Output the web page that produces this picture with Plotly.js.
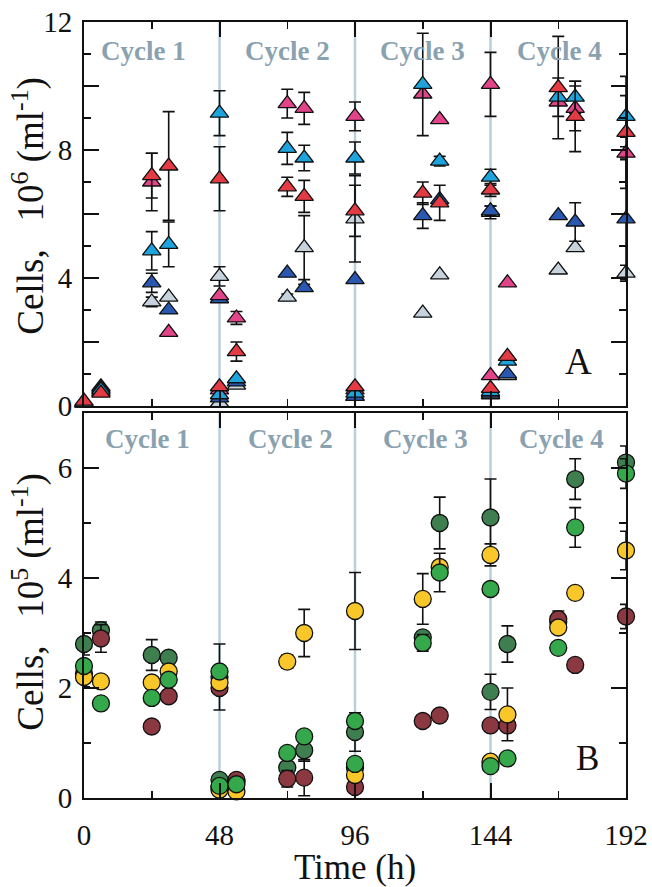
<!DOCTYPE html>
<html>
<head>
<meta charset="utf-8">
<script src="https://cdn.plot.ly/plotly-3.0.1.min.js"></script>
<style>html,body{margin:0;padding:0;background:#fff;}#chart{width:652px;height:887px;}</style>
</head>
<body>
<div id="chart"></div>
<script>
// Sampling times (h); cycle boundaries appear twice (end of cycle / start of next)
const times = [0, 6, 24, 30, 48, 48, 54, 72, 78, 96, 96, 120, 126, 144, 144, 150, 168, 174, 192];

// Panel A (10^6 cells ml-1), triangles
const aRed      = [0.15, 0.4, 7.2, 7.5, 7.1, 0.6, 1.7, 6.85, 6.55, 6.1, 0.6, 6.65, 6.35, 6.75, 0.55, 1.55, 9.95, 9.05, 8.55];
const aRedErr   = [null, null, 0.7, 1.7, 1.0, null, 0.3, 0.3, 0.5, 0.8, null, 0.35, 0.55, 0.2, null, null, 1.6, 1.1, 1.75];
const aPink     = [0.1, 0.45, 7.0, 2.3, 3.45, 0.5, 2.75, 9.45, 9.3, 9.05, 0.5, 9.75, 8.95, 10.05, 0.95, 3.85, 9.5, 9.3, 7.9];
const aPinkErr  = [null, null, 0.9, null, null, null, 0.2, 0.45, 0.5, 0.45, null, null, null, 1.0, null, null, null, 0.7, 0.2];
const aCyan     = [0.1, 0.5, 4.85, 5.05, 9.15, 0.35, 0.85, 8.05, 7.75, 7.75, 0.4, 10.05, 7.65, 7.15, 0.45, 1.4, 9.65, 9.65, 9.05];
const aCyanErr  = [null, null, 0.6, 0.7, 0.7, null, null, 0.5, 0.4, 0.5, null, 1.6, 0.15, 0.25, null, null, 0.6, 0.5, 0.65];
const aBlue     = [0.1, 0.55, 3.85, 3.0, 3.35, 0.25, 0.75, 4.15, 3.7, 3.95, 0.3, 5.95, 6.45, 6.1, 0.4, 1.0, 5.95, 5.75, 5.85];
const aBlueErr  = [null, null, 0.3, null, null, null, null, null, 0.1, null, null, 0.4, null, 0.15, null, null, null, 0.6, 1.9];
const aGray     = [0.1, 0.6, 3.25, 3.4, 4.05, 0.1, 0.65, 3.4, 4.95, 5.85, 0.3, 2.9, 4.1, 6.05, 0.35, 0.95, 4.25, 4.95, 4.15];
const aGrayErr  = [null, null, 0.15, null, 0.3, null, null, 0.1, 1.0, 1.35, null, null, null, 0.2, null, null, null, null, 0.25];

// Panel B (10^5 cells ml-1), circles
const bDkGreen    = [2.8, 3.05, 2.6, 2.55, 2.2, 0.33, 0.3, 0.55, 0.87, 1.2, 0.55, 2.92, 5.0, 5.1, 1.93, 2.8, 3.2, 5.8, 6.1];
const bDkGreenErr = [0.2, 0.15, 0.28, null, 0.6, null, null, null, 0.2, 0.35, null, null, 0.47, 0.7, 0.32, 0.33, null, 0.37, 0.3];
const bGreen      = [2.4, 1.72, 1.82, 2.15, 2.3, 0.22, 0.25, 0.82, 1.12, 1.4, 0.62, 2.82, 4.1, 3.8, 0.58, 0.72, 2.73, 4.92, 5.9];
const bGreenErr   = [null, null, null, null, null, null, null, null, null, null, null, 0.15, 0.35, null, null, null, null, 0.36, 0.27];
const bYellow     = [2.2, 2.12, 2.1, 2.3, 2.1, 0.15, 0.12, 2.48, 3.0, 3.4, 0.42, 3.62, 4.2, 4.42, 0.66, 1.52, 3.1, 3.73, 4.5];
const bYellowErr  = [0.18, null, null, null, null, null, null, 0.12, 0.43, 0.7, null, 0.46, null, 0.2, null, 0.48, null, null, 0.35];
const bMaroon     = [2.25, 2.9, 1.3, 1.85, 2.0, 0.2, 0.33, 0.35, 0.37, null, 0.2, 1.4, 1.5, 1.32, null, 1.32, 3.25, 2.42, 3.3];
const bMaroonErr  = [null, 0.25, null, null, null, null, null, 0.15, 0.33, null, null, null, null, null, null, null, 0.15, 0.1, 0.22];

const xTicks = [0, 48, 96, 144, 192];
const xMinorTicks = [24, 72, 120, 168];
const aTicks = [0, 4, 8, 12];
const aLongUnlabeled = [2, 6, 10];
const aMinorTicks = [1, 3, 5, 7, 9, 11];
const bTicks = [0, 2, 4, 6];
const bMinorTicks = [1, 3, 5];
const cycleLabels = ['Cycle 1', 'Cycle 2', 'Cycle 3', 'Cycle 4'];
const cycleCentersA = [21, 72, 120, 168.5];
const cycleCentersB = [22.5, 73, 121, 169];
const boundaries = [48, 96, 144];

function tri(y, err, color, name) {
  return {
    x: times, y: y, type: 'scatter', mode: 'markers', name: name,
    xaxis: 'x2', yaxis: 'y', cliponaxis: false,
    marker: {symbol: 'triangle-up', size: 16, color: color, line: {color: '#111', width: 1.3}},
    error_y: {type: 'data', array: err, visible: true, color: '#111', thickness: 1.6, width: 6}
  };
}
function circ(y, err, color, name) {
  return {
    x: times, y: y, type: 'scatter', mode: 'markers', name: name,
    xaxis: 'x', yaxis: 'y2', cliponaxis: false,
    marker: {symbol: 'circle', size: 17, color: color, line: {color: '#111', width: 1.3}},
    error_y: {type: 'data', array: err, visible: true, color: '#111', thickness: 1.6, width: 6}
  };
}

const data = [
  {x: [], y: [], type: 'scatter', mode: 'markers', xaxis: 'x2', yaxis: 'y3', hoverinfo: 'skip', showlegend: false},
  tri(aGray, aGrayErr, '#c6d3dc', 'gray'),
  tri(aBlue, aBlueErr, '#2a58b0', 'blue'),
  tri(aPink, aPinkErr, '#e2448a', 'pink'),
  tri(aCyan, aCyanErr, '#1ea4dc', 'cyan'),
  tri(aRed, aRedErr, '#e33a43', 'red'),
  circ(bDkGreen, bDkGreenErr, '#3f7e4e', 'dark green'),
  circ(bMaroon, bMaroonErr, '#8c3840', 'maroon'),
  circ(bYellow, bYellowErr, '#f9c72a', 'yellow'),
  circ(bGreen, bGreenErr, '#34a84a', 'green')
];

const serif = 'Liberation Serif, Times New Roman, serif';
const minorSpec = vals => ({tickmode: 'array', tickvals: vals, ticks: 'inside', ticklen: 7, tickwidth: 1.5, tickcolor: '#111'});
const axisCommon = {
  showgrid: false, zeroline: false, showline: true, linecolor: '#111', linewidth: 2,
  mirror: 'ticks', ticks: 'inside', tickcolor: '#111', tickwidth: 2, ticklen: 15,
  tickfont: {family: serif, size: 29, color: '#111'}
};

const shapes = [];
boundaries.forEach(b => {
  shapes.push({type: 'line', xref: 'x2', yref: 'y', x0: b, x1: b, y0: 0, y1: 12,
    line: {color: '#b9cfdc', width: 2.5}, layer: 'below'});
  shapes.push({type: 'line', xref: 'x', yref: 'y2', x0: b, x1: b, y0: 0, y1: 7,
    line: {color: '#b9cfdc', width: 2.5}, layer: 'below'});
});

const annotations = [];
const cycleFont = {family: serif, size: 27, color: '#8aa2b0', weight: 'bold'};
cycleLabels.forEach((t, i) => {
  annotations.push({text: t, xref: 'x2', yref: 'y', x: cycleCentersA[i], y: 11.1,
    showarrow: false, font: cycleFont, xanchor: 'center', yanchor: 'middle'});
  annotations.push({text: t, xref: 'x', yref: 'y2', x: cycleCentersB[i], y: 6.53,
    showarrow: false, font: cycleFont, xanchor: 'center', yanchor: 'middle'});
});
annotations.push({text: 'A', xref: 'x2', yref: 'y', x: 175.3, y: 1.4, showarrow: false,
  font: {family: serif, size: 37, color: '#111'}, xanchor: 'center', yanchor: 'middle'});
annotations.push({text: 'B', xref: 'x', yref: 'y2', x: 178.2, y: 0.71, showarrow: false,
  font: {family: serif, size: 35, color: '#111'}, xanchor: 'center', yanchor: 'middle'});
annotations.push({text: 'Cells,&nbsp;&nbsp;&nbsp;10<sup>6</sup> (ml<sup>-1</sup>)', xref: 'paper', yref: 'paper', x: -0.102, y: 0.763,
  textangle: -90, showarrow: false, font: {family: serif, size: 37, color: '#111'}, xanchor: 'center', yanchor: 'middle'});
annotations.push({text: 'Cells,&nbsp;&nbsp;&nbsp;10<sup>5</sup> (ml<sup>-1</sup>)', xref: 'paper', yref: 'paper', x: -0.102, y: 0.2526,
  textangle: -90, showarrow: false, font: {family: serif, size: 37, color: '#111'}, xanchor: 'center', yanchor: 'middle'});

const layout = {
  width: 652, height: 887,
  margin: {l: 84, r: 26, t: 22, b: 89, pad: 0},
  paper_bgcolor: '#fff', plot_bgcolor: '#fff',
  showlegend: false,
  font: {family: serif, color: '#111'},
  xaxis: Object.assign({}, axisCommon, {
    anchor: 'y2', domain: [0, 1], range: [0, 192],
    tickmode: 'array', tickvals: xTicks, ticklabelstandoff: 10,
    minor: minorSpec(xMinorTicks),
    title: {text: 'Time (h)', font: {family: serif, size: 35, color: '#111'}, standoff: 0}
  }),
  xaxis2: Object.assign({}, axisCommon, {
    anchor: 'y', domain: [0, 1], range: [0, 192], matches: 'x', showticklabels: false,
    tickmode: 'array', tickvals: xTicks,
    minor: minorSpec(xMinorTicks)
  }),
  yaxis: Object.assign({}, axisCommon, {
    anchor: 'x2', domain: [0.5052, 1], range: [0, 12],
    tickmode: 'array', tickvals: aTicks, ticklabelstandoff: 4,
    minor: minorSpec(aMinorTicks)
  }),
  yaxis3: {
    overlaying: 'y', anchor: 'x2', range: [0, 12], showgrid: false, zeroline: false, showline: false,
    showticklabels: false, ticks: 'inside', mirror: 'ticks', tickcolor: '#111', tickwidth: 2, ticklen: 15,
    tickmode: 'array', tickvals: aLongUnlabeled
  },
  yaxis2: Object.assign({}, axisCommon, {
    anchor: 'x', domain: [0, 0.4961], range: [0, 7],
    tickmode: 'array', tickvals: bTicks, ticklabelstandoff: 4,
    minor: minorSpec(bMinorTicks)
  }),
  shapes: shapes,
  annotations: annotations
};

Plotly.newPlot('chart', data, layout, {displayModeBar: false, staticPlot: true});
</script>
</body>
</html>
